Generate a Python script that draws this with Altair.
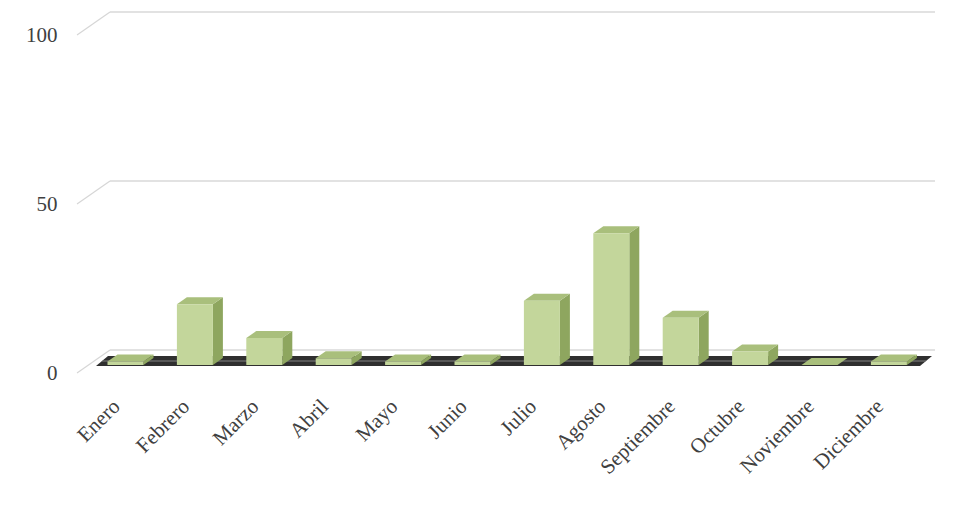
import altair as alt
import pandas as pd

# ---- data ----
months = ["Enero", "Febrero", "Marzo", "Abril", "Mayo", "Junio", "Julio",
          "Agosto", "Septiembre", "Octubre", "Noviembre", "Diciembre"]
values = [1, 18, 8, 2, 1, 1, 19, 39, 14, 4, 0, 1]
ticks_y = [0, 50, 100]

# ---- pseudo-3D geometry (in scale units) ----
PX_X = 69.4          # px per month index
PX_Y = 3.38          # px per value unit
XDOM = [(77 - 125.5) / PX_X, (940 - 125.5) / PX_X]
YDOM = [-(375 - 350) / PX_Y, 100]
W = 863
H = round((YDOM[1] - YDOM[0]) * PX_Y)

base = -15 / PX_Y          # front bottom of bars
hw = 18 / PX_X             # half width of front face
bdx, bdy = 10 / PX_X, 7 / PX_Y    # bar depth
back_dx, back_dy = 33 / PX_X, 23 / PX_Y  # wall depth

front_rows, side_rows, top_rows = [], [], []
for i, (m, v) in enumerate(zip(months, values)):
    x0, x1 = i - hw, i + hw
    yt = base + v
    front_rows.append(dict(m=m, x0=x0, x1=x1, y0=base, y1=yt))
    side_rows += [dict(m=m, x=x1, y=yt, y2=base),
                  dict(m=m, x=x1 + bdx, y=yt + bdy, y2=base + bdy)]
    top_rows += [dict(m=m, x=x0, y=yt, y2=yt),
                 dict(m=m, x=x0 + bdx, y=yt + bdy, y2=yt),
                 dict(m=m, x=x1, y=yt + bdy, y2=yt),
                 dict(m=m, x=x1 + bdx, y=yt + bdy, y2=yt + bdy)]
front = pd.DataFrame(front_rows)
side = pd.DataFrame(side_rows)
top = pd.DataFrame(top_rows)

fl_front, fl_back = -16 / PX_Y, -6 / PX_Y
xl, xr, fdx = (96 - 125.5) / PX_X, (920 - 125.5) / PX_X, 12 / PX_X
floor = pd.DataFrame([
    dict(x=xl, y=fl_front, y2=fl_front),
    dict(x=xl + fdx, y=fl_back, y2=fl_front),
    dict(x=xr, y=fl_back, y2=fl_front),
    dict(x=xr + fdx, y=fl_back, y2=fl_back),
])
fl_mid = (fl_front + fl_back) / 2
floor_hl = pd.DataFrame([
    dict(x=xl + fdx * 0.5, y=fl_mid + 0.25, y2=fl_mid - 0.25),
    dict(x=xr + fdx * 0.5, y=fl_mid + 0.25, y2=fl_mid - 0.25),
])

grid = pd.DataFrame(dict(v=ticks_y,
                         xa=[XDOM[0] + back_dx] * 3,
                         xb=[(935 - 125.5) / PX_X] * 3,
                         xs=[XDOM[0]] * 3))
grid["vs"] = grid["v"] - back_dy

xs = alt.Scale(domain=XDOM, nice=False, zero=False)
ys = alt.Scale(domain=YDOM, nice=False, zero=False)

label_expr = "[" + ",".join(f"'{m}'" for m in months) + "][datum.value]"

x_axis = alt.Axis(values=list(range(12)), labelExpr=label_expr, labelAngle=-45,
                  labelAlign="right", labelBaseline="middle", labelPadding=28,
                  labelOffset=-9, ticks=False, domain=False, grid=False,
                  labelFont="Liberation Serif", labelFontSize=21,
                  labelColor="#404040", title=None, labelOverlap=False)
y_axis = alt.Axis(values=ticks_y, grid=False, ticks=False, domain=False,
                  labelPadding=20, labelOffset=23, labelFont="Liberation Serif",
                  labelFontSize=21, labelColor="#404040", title=None)


def X(f):
    return alt.X(f, scale=xs, axis=x_axis)


def Y(f):
    return alt.Y(f, scale=ys, axis=y_axis)


grid_lines = alt.Chart(grid).mark_rule(color="#d9d9d9", strokeWidth=1.6).encode(
    x=X("xa:Q"), x2="xb:Q", y=Y("v:Q"),
)
stubs = alt.Chart(grid).mark_rule(color="#d6d6d6", strokeWidth=1.2).encode(
    x=X("xs:Q"), x2="xa:Q", y=Y("vs:Q"), y2="v:Q",
)
floor_l = alt.Chart(floor).mark_area(orient="vertical", color="#2f2f2f").encode(
    x=X("x:Q"), y=Y("y:Q"), y2="y2:Q",
)
floor_h = alt.Chart(floor_hl).mark_area(orient="vertical", color="#8a8a8a", opacity=0.6).encode(
    x=X("x:Q"), y=Y("y:Q"), y2="y2:Q",
)
side_l = alt.Chart(side).mark_area(orient="vertical", color="#8ea65f").encode(
    x=X("x:Q"), y=Y("y:Q"), y2="y2:Q", detail="m:N",
)
top_l = alt.Chart(top).mark_area(orient="vertical", color="#a9bf7c").encode(
    x=X("x:Q"), y=Y("y:Q"), y2="y2:Q", detail="m:N",
)
front_l = alt.Chart(front).mark_rect(color="#c3d69b").encode(
    x=X("x0:Q"), x2="x1:Q", y=Y("y0:Q"), y2="y1:Q",
)

chart = alt.layer(grid_lines, stubs, floor_l, floor_h, side_l, top_l, front_l).properties(
    width=W, height=H,
    padding={"left": 69, "top": 4, "right": 15, "bottom": 120},
    autosize=alt.AutoSizeParams(type="none"),
).configure_view(stroke=None)

chart.save("out.html", embed_options={"renderer": "svg", "actions": False})
